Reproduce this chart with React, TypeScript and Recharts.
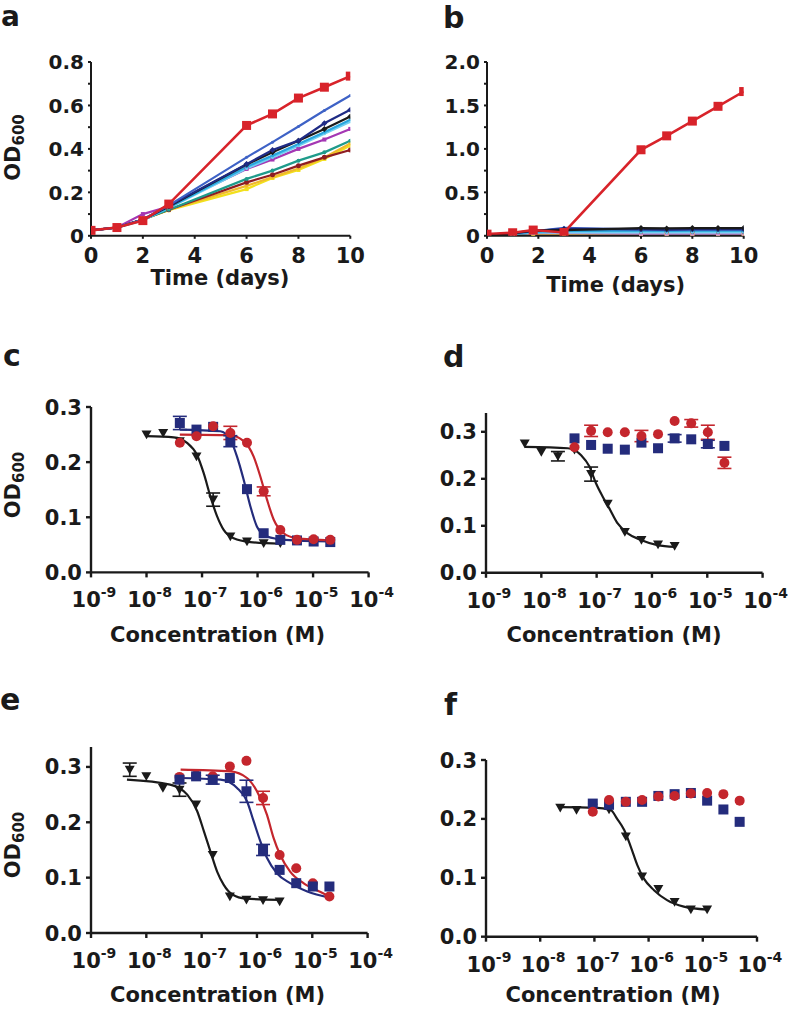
import React from 'react';
import { ComposedChart, Line, Scatter, XAxis, YAxis, ErrorBar } from 'recharts';

const FONT = '"DejaVu Sans", "Liberation Sans", Arial, sans-serif';
const INK = '#1a1a1a';
const NAVY = '#242c7c';
const RED = '#c4262d';

// ---------- panels a / b : growth over time ----------
const daysA = [0, 1, 2, 3, 6, 7, 8, 9, 10];
const daysB = [0, 1, 1.8, 3, 6, 7, 8, 9, 10];

const aRed = [0.025, 0.038, 0.07, 0.146, 0.508, 0.561, 0.634, 0.684, 0.735];
const aRoyal = [0.025, 0.038, 0.075, 0.14, 0.361, 0.431, 0.503, 0.577, 0.646];
const aNavy = [0.025, 0.038, 0.075, 0.138, 0.33, 0.395, 0.438, 0.518, 0.58];
const aBlack = [0.025, 0.038, 0.075, 0.135, 0.328, 0.384, 0.438, 0.492, 0.549];
const aCyan = [0.025, 0.038, 0.072, 0.13, 0.318, 0.369, 0.423, 0.477, 0.534];
const aLightBlue = [0.025, 0.038, 0.072, 0.128, 0.31, 0.36, 0.415, 0.47, 0.525];
const aPurple = [0.025, 0.038, 0.1, 0.135, 0.308, 0.351, 0.4, 0.443, 0.492];
const aTeal = [0.025, 0.038, 0.075, 0.12, 0.262, 0.3, 0.346, 0.384, 0.438];
const aGold = [0.025, 0.038, 0.075, 0.12, 0.23, 0.27, 0.31, 0.36, 0.425];
const aYellow = [0.025, 0.038, 0.075, 0.118, 0.215, 0.266, 0.303, 0.354, 0.415];
const aDarkRed = [0.025, 0.038, 0.075, 0.12, 0.246, 0.281, 0.323, 0.361, 0.395];

const bRed = [0.019, 0.035, 0.066, 0.038, 0.99, 1.15, 1.32, 1.49, 1.66];
const bRoyal = [0.012, 0.03, 0.05, 0.09, 0.07, 0.068, 0.07, 0.07, 0.07];
const bNavy = [0.012, 0.03, 0.055, 0.08, 0.076, 0.072, 0.076, 0.076, 0.076];
const bBlack = [0.01, 0.03, 0.06, 0.066, 0.089, 0.085, 0.089, 0.089, 0.089];
const bCyan = [0.01, 0.025, 0.045, 0.055, 0.058, 0.055, 0.058, 0.058, 0.058];
const bLightBlue = [0.01, 0.02, 0.035, 0.04, 0.04, 0.038, 0.04, 0.04, 0.04];
const bPurple = [0.01, 0.015, 0.03, 0.03, 0.022, 0.022, 0.022, 0.022, 0.022];
const bTeal = [0.01, 0.02, 0.04, 0.05, 0.05, 0.05, 0.05, 0.05, 0.05];
const bGold = [0.005, 0.012, 0.02, 0.025, 0.018, 0.018, 0.018, 0.018, 0.018];
const bYellow = [0.005, 0.01, 0.015, 0.02, 0.012, 0.012, 0.012, 0.012, 0.012];
const bDarkRed = [0.01, 0.02, 0.04, 0.05, 0.045, 0.045, 0.045, 0.045, 0.045];

const timeTicks = [0, 2, 4, 6, 8, 10];
const timeLabels = ['0', '2', '4', '6', '8', '10'];
const aYTicks = [0, 0.1, 0.2, 0.3, 0.4, 0.5, 0.6, 0.7, 0.8];
const aYLabels = ['0', '', '0.2', '', '0.4', '', '0.6', '', '0.8'];
const bYTicks = [0, 0.25, 0.5, 0.75, 1, 1.25, 1.5, 1.75, 2];
const bYLabels = ['0', '', '0.5', '', '1.0', '', '1.5', '', '2.0'];

// ---------- panels c-f : dose response (x = log10 concentration, M) ----------
const decadeTicks = [-9, -8, -7, -6, -5, -4];
const decadeExp = ['-9', '-8', '-7', '-6', '-5', '-4'];
const odTicks = [0, 0.1, 0.2, 0.3];
const odLabels = ['0.0', '0.1', '0.2', '0.3'];

const doseShort8 = [-8, -7.7, -7.4, -7.1, -6.8, -6.49, -6.19, -5.89, -5.59];
const doseShort = [-8.3, -8, -7.7, -7.4, -7.1, -6.8, -6.49, -6.19, -5.89, -5.59];
const doseLong = [-7.4, -7.1, -6.8, -6.49, -6.19, -5.89, -5.59, -5.29, -4.99, -4.69];
const doseFBlack = [-7.63, -7.33, -7.03, -6.73, -6.42, -6.12, -5.82, -5.52, -5.22, -4.92];
const doseFLong = [-7.03, -6.73, -6.42, -6.12, -5.82, -5.52, -5.22, -4.92, -4.62, -4.32];

const cBlack = [0.25, 0.253, 0.238, 0.21, 0.132, 0.065, 0.056, 0.053, 0.053];
const cBlackErr = [0, 0, 0, 0, 0.012, 0, 0, 0, 0];
const cBlue = [0.271, 0.259, 0.264, 0.238, 0.151, 0.071, 0.059, 0.058, 0.056, 0.055];
const cBlueErr = [0.012, 0, 0, 0.01, 0, 0, 0, 0, 0, 0];
const cRed = [0.235, 0.247, 0.265, 0.253, 0.235, 0.147, 0.077, 0.059, 0.06, 0.059];
const cRedErr = [0, 0, 0, 0.012, 0, 0.008, 0, 0, 0, 0];
const cFitBlack: [number, number][] = [[-8, 0.247], [-7.51, 0.245], [-7.27, 0.235], [-7.09, 0.213], [-6.97, 0.18], [-6.85, 0.138], [-6.73, 0.102], [-6.61, 0.077], [-6.43, 0.062], [-6.13, 0.055], [-5.59, 0.052]];
const cFitBlue: [number, number][] = [[-7.4, 0.259], [-6.67, 0.256], [-6.49, 0.241], [-6.37, 0.21], [-6.25, 0.168], [-6.13, 0.12], [-6.01, 0.083], [-5.83, 0.065], [-5.5, 0.059], [-4.69, 0.056]];
const cFitRed: [number, number][] = [[-7.4, 0.25], [-6.5, 0.249], [-6.25, 0.238], [-6.07, 0.21], [-5.95, 0.174], [-5.83, 0.132], [-5.71, 0.096], [-5.53, 0.071], [-5.3, 0.062], [-4.69, 0.058]];

const dBlack = [0.275, 0.257, 0.248, 0.262, 0.21, 0.147, 0.087, 0.07, 0.06, 0.057];
const dBlackErr = [0, 0, 0.01, 0, 0.015, 0, 0, 0, 0, 0];
const dBlue = [0.286, 0.272, 0.264, 0.262, 0.277, 0.265, 0.286, 0.284, 0.274, 0.27];
const dBlueErr = [0, 0, 0, 0, 0, 0, 0.008, 0, 0.008, 0];
const dRed = [0.267, 0.302, 0.299, 0.299, 0.291, 0.295, 0.323, 0.318, 0.299, 0.234];
const dRedErr = [0, 0.012, 0, 0, 0.012, 0, 0, 0.008, 0.015, 0.012];
const dFitBlack: [number, number][] = [[-8.3, 0.268], [-7.52, 0.265], [-7.28, 0.25], [-7.13, 0.226], [-7.01, 0.19], [-6.89, 0.162], [-6.77, 0.137], [-6.62, 0.105], [-6.44, 0.084], [-6.2, 0.07], [-5.9, 0.059], [-5.59, 0.055]];

const eBlack = [0.295, 0.283, 0.262, 0.259, 0.232, 0.141, 0.066, 0.06, 0.059, 0.057];
const eBlackErr = [0.012, 0, 0, 0.012, 0, 0, 0, 0, 0, 0];
const eBlue = [0.277, 0.283, 0.277, 0.28, 0.256, 0.15, 0.114, 0.09, 0.084, 0.084];
const eBlueErr = [0, 0, 0.008, 0, 0.02, 0.01, 0, 0, 0, 0];
const eRed = [0.282, 0.285, 0.283, 0.301, 0.311, 0.244, 0.141, 0.117, 0.09, 0.066];
const eRedErr = [0, 0, 0, 0, 0, 0.012, 0, 0, 0, 0];
const eFitBlack: [number, number][] = [[-8.35, 0.277], [-7.57, 0.268], [-7.26, 0.25], [-7.08, 0.22], [-6.96, 0.184], [-6.84, 0.147], [-6.72, 0.111], [-6.6, 0.087], [-6.45, 0.07], [-6.2, 0.062], [-5.59, 0.06]];
const eFitBlue: [number, number][] = [[-7.4, 0.28], [-6.66, 0.277], [-6.36, 0.262], [-6.18, 0.238], [-6.06, 0.202], [-5.94, 0.166], [-5.82, 0.136], [-5.64, 0.108], [-5.4, 0.09], [-5.09, 0.075], [-4.69, 0.064]];
const eFitRed: [number, number][] = [[-7.38, 0.295], [-6.48, 0.292], [-6.18, 0.28], [-6.0, 0.256], [-5.82, 0.214], [-5.7, 0.172], [-5.58, 0.141], [-5.4, 0.111], [-5.16, 0.09], [-4.85, 0.074], [-4.69, 0.066]];

const fBlack = [0.219, 0.215, 0.219, 0.216, 0.17, 0.102, 0.081, 0.059, 0.046, 0.046];
const fBlue = [0.226, 0.224, 0.229, 0.229, 0.239, 0.242, 0.244, 0.231, 0.216, 0.195];
const fRed = [0.212, 0.232, 0.229, 0.232, 0.238, 0.239, 0.243, 0.244, 0.242, 0.231];
const fFitBlack: [number, number][] = [[-7.63, 0.22], [-7.0, 0.219], [-6.7, 0.215], [-6.58, 0.2], [-6.45, 0.181], [-6.33, 0.153], [-6.21, 0.122], [-6.09, 0.099], [-5.9, 0.079], [-5.66, 0.062], [-5.35, 0.051], [-4.92, 0.046]];

// ---------- helpers ----------
const pts = (xs: number[], ys: number[], es?: number[]) =>
  xs.map((x, i) => ({ x, y: ys[i], e: es ? es[i] : 0 }));
const curve = (p: [number, number][]) => p.map(([x, y]) => ({ x, y }));

function Marker({ cx, cy, shape, size, color }: any) {
  if (cx == null || cy == null) return <g />;
  const h = size / 2;
  if (shape === 'square') return <rect x={cx - h} y={cy - h} width={size} height={size} fill={color} />;
  if (shape === 'circle') return <circle cx={cx} cy={cy} r={h} fill={color} />;
  if (shape === 'diamond')
    return <polygon points={`${cx},${cy - h} ${cx + h},${cy} ${cx},${cy + h} ${cx - h},${cy}`} fill={color} />;
  return <polygon points={`${cx - h},${cy - h * 0.8} ${cx + h},${cy - h * 0.8} ${cx},${cy + h * 0.95}`} fill={color} />;
}

const dotOf = (shape: string, size: number, color: string) => (p: any) =>
  <Marker key={`m-${p.index}`} cx={p.cx} cy={p.cy} shape={shape} size={size} color={color} />;

const yTickOf = (ticks: number[], labels: string[], fs: number) => (p: any) => (
  <text x={p.x} y={p.y} dy={fs * 0.36} textAnchor="end" fontSize={fs} fontWeight="bold" fontFamily={FONT} fill={INK}>
    {labels[ticks.indexOf(p.payload.value)] ?? ''}
  </text>
);

const xTickOf = (ticks: number[], labels: string[], fs: number, dy: number) => (p: any) => (
  <text x={p.x} y={p.y + dy} textAnchor="middle" fontSize={fs} fontWeight="bold" fontFamily={FONT} fill={INK}>
    {labels[ticks.indexOf(p.payload.value)] ?? ''}
  </text>
);

const powTick = (p: any) => (
  <text x={p.x + 3} y={p.y + 26} textAnchor="middle" fontSize={21} fontWeight="bold" fontFamily={FONT} fill={INK}>
    <tspan>10</tspan>
    <tspan dy={-10} fontSize={14}>{decadeExp[decadeTicks.indexOf(p.payload.value)]}</tspan>
  </text>
);

const PAD = { l: 70, r: 30, t: 20, b: 50 };

function Panel({ rect, xDomain, xTicks, xTick, yDomain, yTicks, yTick, tickSize, axisW, children }: any) {
  const width = rect.w + PAD.l + PAD.r;
  const height = rect.h + PAD.t + PAD.b;
  const line = { stroke: INK, strokeWidth: axisW };
  return (
    <div style={{ position: 'absolute', left: rect.x - PAD.l, top: rect.y - PAD.t }}>
      <ComposedChart width={width} height={height} margin={{ top: PAD.t, right: PAD.r, bottom: 0, left: 0 }}>
        <XAxis type="number" dataKey="x" domain={xDomain} ticks={xTicks} tick={xTick} interval={0}
          tickSize={tickSize} tickMargin={4} axisLine={line} tickLine={line} height={PAD.b} allowDataOverflow />
        <YAxis type="number" dataKey="y" domain={yDomain} ticks={yTicks} tick={yTick} interval={0}
          tickSize={tickSize} tickMargin={4} axisLine={line} tickLine={line} width={PAD.l} allowDataOverflow />
        {children}
      </ComposedChart>
    </div>
  );
}

const aSeries = [
  { v: aYellow, c: '#f2e01c', m: 'square', s: 4 },
  { v: aGold, c: '#f0b92c', m: 'circle', s: 4 },
  { v: aDarkRed, c: '#8f1d22', m: 'circle', s: 5 },
  { v: aTeal, c: '#1f9b8b', m: 'circle', s: 4 },
  { v: aPurple, c: '#a437b3', m: 'square', s: 4 },
  { v: aLightBlue, c: '#6fd0f2', m: 'circle', s: 3 },
  { v: aCyan, c: '#2aa6de', m: 'circle', s: 3 },
  { v: aBlack, c: '#1a1a1a', m: 'diamond', s: 6 },
  { v: aNavy, c: '#1f2b85', m: 'diamond', s: 6 },
  { v: aRoyal, c: '#3e62c6', m: 'circle', s: 3 },
  { v: aRed, c: '#d8232a', m: 'square', s: 9 },
];

const bSeries = [
  { v: bYellow, c: '#f2e01c', m: 'square', s: 4 },
  { v: bGold, c: '#f0b92c', m: 'circle', s: 4 },
  { v: bPurple, c: '#c58ad6', m: 'square', s: 4 },
  { v: bDarkRed, c: '#8f1d22', m: 'circle', s: 4 },
  { v: bTeal, c: '#1f9b8b', m: 'circle', s: 4 },
  { v: bLightBlue, c: '#6fd0f2', m: 'circle', s: 3 },
  { v: bCyan, c: '#2aa6de', m: 'circle', s: 3 },
  { v: bRoyal, c: '#3e62c6', m: 'circle', s: 3 },
  { v: bNavy, c: '#1f2b85', m: 'diamond', s: 6 },
  { v: bBlack, c: '#1a1a1a', m: 'diamond', s: 6 },
  { v: bRed, c: '#d8232a', m: 'square', s: 9 },
];

const growthLines = (days: number[], series: typeof aSeries) =>
  series.map((s, i) => (
    <Line key={`g${i}`} data={pts(days, s.v)} dataKey="y" type="linear" stroke={s.c}
      strokeWidth={s.s > 6 ? 2.6 : 2.2} dot={dotOf(s.m, s.s, s.c)} activeDot={false}
      isAnimationActive={false} />
  ));

const fit = (data: [number, number][], color: string, key: string) => (
  <Line key={key} data={curve(data)} dataKey="y" type="monotone" stroke={color} strokeWidth={2.2}
    dot={false} activeDot={false} isAnimationActive={false} />
);

const marks = (data: any[], shape: string, color: string, key: string) => (
  <Scatter key={key} data={data} dataKey="y" isAnimationActive={false}
    shape={(p: any) => <Marker cx={p.cx} cy={p.cy} shape={shape} size={10} color={color} />}>
    <ErrorBar dataKey="e" direction="y" width={7} stroke={color} strokeWidth={1.6} isAnimationActive={false} />
  </Scatter>
);

const doseProps = {
  xDomain: [-9, -4], xTicks: decadeTicks, xTick: powTick,
  yTicks: odTicks, yTick: yTickOf(odTicks, odLabels, 21), tickSize: 5, axisW: 2.4,
};

const T = { fontFamily: FONT, fontWeight: 'bold' as const, fill: INK };

function OD({ cx, cy }: { cx: number; cy: number }) {
  return (
    <text transform={`translate(${cx},${cy}) rotate(-90)`} textAnchor="middle" fontSize={21} {...T}>
      OD<tspan dy={4} fontSize={15}>600</tspan>
    </text>
  );
}

export default function App() {
  return (
    <div style={{ position: 'absolute', left: 0, top: 0, width: 788, height: 1009, background: '#fff', overflow: 'hidden' }}>
      <Panel rect={{ x: 90.7, y: 61.7, w: 259.3, h: 173.8 }} xDomain={[0, 10]} xTicks={timeTicks}
        xTick={xTickOf(timeTicks, timeLabels, 21, 20)} yDomain={[0, 0.8]} yTicks={aYTicks}
        yTick={yTickOf(aYTicks, aYLabels, 20)} tickSize={3} axisW={2}>
        {growthLines(daysA, aSeries)}
      </Panel>
      <Panel rect={{ x: 487.3, y: 61.7, w: 256.7, h: 173.8 }} xDomain={[0, 10]} xTicks={timeTicks}
        xTick={xTickOf(timeTicks, timeLabels, 21, 20)} yDomain={[0, 2]} yTicks={bYTicks}
        yTick={yTickOf(bYTicks, bYLabels, 20)} tickSize={3} axisW={2}>
        {growthLines(daysB, bSeries)}
      </Panel>

      <Panel rect={{ x: 90.7, y: 407.3, w: 277.6, h: 165.4 }} yDomain={[0, 0.3]} {...doseProps}>
        {fit(cFitBlack, INK, 'cfk')}
        {fit(cFitBlue, NAVY, 'cfb')}
        {fit(cFitRed, RED, 'cfr')}
        {marks(pts(doseShort8, cBlack, cBlackErr), 'tri', INK, 'ck')}
        {marks(pts(doseLong, cBlue, cBlueErr), 'square', NAVY, 'cb')}
        {marks(pts(doseLong, cRed, cRedErr), 'circle', RED, 'cr')}
      </Panel>
      <Panel rect={{ x: 485.7, y: 412.9, w: 276.6, h: 159.8 }} yDomain={[0, 0.34]} {...doseProps}>
        {fit(dFitBlack, INK, 'dfk')}
        {marks(pts(doseShort, dBlack, dBlackErr), 'tri', INK, 'dk')}
        {marks(pts(doseLong, dBlue, dBlueErr), 'square', NAVY, 'db')}
        {marks(pts(doseLong, dRed, dRedErr), 'circle', RED, 'dr')}
      </Panel>
      <Panel rect={{ x: 90.7, y: 747.3, w: 276.6, h: 186 }} yDomain={[0, 0.336]} {...doseProps}>
        {fit(eFitBlack, INK, 'efk')}
        {fit(eFitBlue, NAVY, 'efb')}
        {fit(eFitRed, RED, 'efr')}
        {marks(pts(doseShort, eBlack, eBlackErr), 'tri', INK, 'ek')}
        {marks(pts(doseLong, eRed, eRedErr), 'circle', RED, 'er')}
        {marks(pts(doseLong, eBlue, eBlueErr), 'square', NAVY, 'eb')}
      </Panel>
      <Panel rect={{ x: 485.7, y: 760, w: 271, h: 176.7 }} yDomain={[0, 0.3]} {...doseProps}>
        {fit(fFitBlack, INK, 'ffk')}
        {marks(pts(doseFBlack, fBlack), 'tri', INK, 'fk')}
        {marks(pts(doseFLong, fBlue), 'square', NAVY, 'fb')}
        {marks(pts(doseFLong, fRed), 'circle', RED, 'fr')}
      </Panel>

      <svg width={788} height={1009} style={{ position: 'absolute', left: 0, top: 0, pointerEvents: 'none' }}>
        <text x={1} y={26} fontSize={28} {...T}>a</text>
        <text x={443} y={28} fontSize={30} {...T}>b</text>
        <text x={3} y={366} fontSize={30} {...T}>c</text>
        <text x={443} y={367} fontSize={30} {...T}>d</text>
        <text x={0} y={710} fontSize={30} {...T}>e</text>
        <text x={444} y={715} fontSize={30} {...T}>f</text>

        <OD cx={20} cy={147.5} />
        <OD cx={20} cy={485} />
        <OD cx={20} cy={845} />

        <text x={220} y={285} textAnchor="middle" fontSize={21} {...T}>Time (days)</text>
        <text x={615.7} y={292} textAnchor="middle" fontSize={21} {...T}>Time (days)</text>
        <text x={217.5} y={642} textAnchor="middle" fontSize={21} {...T}>Concentration (M)</text>
        <text x={614} y={642} textAnchor="middle" fontSize={21} {...T}>Concentration (M)</text>
        <text x={217.5} y={1002} textAnchor="middle" fontSize={21} {...T}>Concentration (M)</text>
        <text x={613} y={1002} textAnchor="middle" fontSize={21} {...T}>Concentration (M)</text>
      </svg>
    </div>
  );
}
